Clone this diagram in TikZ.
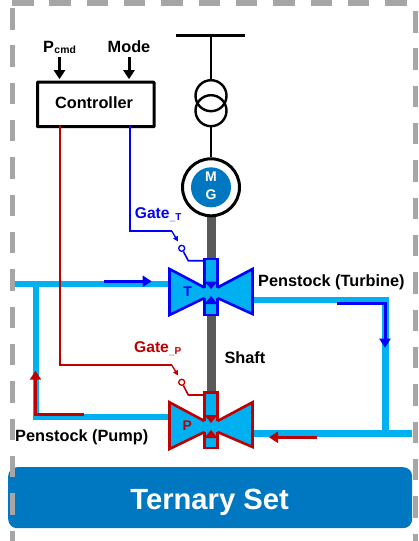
\documentclass[tikz,border=0pt]{standalone}
\usepackage{fontspec}
\setmainfont{Liberation Sans}
\usetikzlibrary{arrows.meta}
\definecolor{pipe}{HTML}{00B0F0}
\definecolor{tblue}{HTML}{0000FF}
\definecolor{pred}{HTML}{C00000}
\definecolor{setblue}{HTML}{0078C1}
\definecolor{frame}{HTML}{A6A6A6}
\definecolor{shaftc}{HTML}{595959}
\newcommand{\fs}[1]{\fontsize{#1}{#1}\selectfont\bfseries}
\tikzset{
  x=1pt,y=-1pt,
  txt/.style={inner sep=0pt,anchor=base west,font=\fs{16.3}},
  framedash/.style={draw=frame,line width=5.3pt,dash pattern=on 21.5pt off 15.83pt},
  pipeline/.style={draw=pipe,line width=6.8pt,line join=miter},
  flow/.style={line width=3pt,-{Triangle[length=9pt,width=11pt]}},
  signal/.style={line width=1.6pt},
  tipline/.style={line width=1.3pt,-{Triangle[length=5pt,width=5pt]}},
  blk/.style={draw=black,line width=3pt},
  valvebody/.style={fill=pipe,draw=none},
  valveedge/.style={line width=2.6pt,line join=miter},
  pilot/.style={circle,draw,fill=white,line width=1.3pt,minimum size=6pt,inner sep=0pt},
}
\begin{document}
\begin{tikzpicture}
\useasboundingbox (0,0) rectangle (419,541);
% bottom band
\node[fill=setblue,rounded corners=9pt,minimum width=404pt,minimum height=61pt,inner sep=0pt,anchor=north west] (band) at (8,467) {};
\node[inner sep=0pt,anchor=base,text=white,font=\fs{29.2}] (bandtxt) at (209.6,509.3) {Ternary Set};
% dashed frame
\draw[framedash] (12,3) -- (419,3);
\draw[framedash] (12.5,8) -- (12.5,541);
\draw[framedash] (415.7,11) -- (415.7,541);
% shaft
\draw[shaftc,line width=9pt] (211,210) -- (211,395);
% pipes
\coordinate (pa) at (15,284);
\coordinate (pb) at (36,284);
\coordinate (pc) at (36,417);
\coordinate (pd) at (175,417);
\coordinate (pe) at (175,284);
\coordinate (pf) at (250,300);
\coordinate (pg) at (385.5,300);
\coordinate (ph) at (385.5,434);
\coordinate (pi) at (250,433.7);
\coordinate (pj) at (412.3,433.7);
\draw[pipeline] (pa) -- (pe);
\draw[pipeline] (pb) -- (pc) -- (pd);
\draw[pipeline] (pf) -- (pg) -- (ph);
\draw[pipeline] (pi) -- (pj);
% transformer and bus
\coordinate (busl) at (176,35.7);
\coordinate (busr) at (245,35.7);
\coordinate (busm) at (211,35.7);
\draw[blk] (busl) -- (busr);
\node[circle,draw=black,line width=2.4pt,minimum size=31pt,inner sep=0pt] (tu) at (211,95.7) {};
\node[circle,draw=black,line width=2.4pt,minimum size=31pt,inner sep=0pt] (tl) at (211,110.7) {};
\node[circle,draw=black,fill=white,line width=3pt,minimum size=57pt,inner sep=0pt] (mg) at (211,187.3) {};
\node[circle,fill=setblue,minimum size=40pt,inner sep=0pt] (mgin) at (211,187.3) {};
\node[inner sep=0pt,text=white,font=\fs{14}] (mtxt) at (211,177) {M};
\node[inner sep=0pt,text=white,font=\fs{14}] (gtxt) at (211,194.5) {G};
\draw[line width=2.4pt] (busm) -- (tu.north);
\draw[line width=2.4pt] (tl.south) -- (mg.north);
% controller
\node[draw=black,line width=3pt,minimum width=116.5pt,minimum height=44.5pt,inner sep=0pt,rounded corners=0.5pt,anchor=north west] (ctrl) at (36,80.7) {};
\node[inner sep=0pt,font=\fs{16.3}] (ctxt) at (94,102.5) {Controller};
\node[txt] (pcmd) at (43,52.7) {P\hspace{0.4pt}\raisebox{-1pt}{\fs{10.4}cmd}};
\node[txt,anchor=base] (mode) at (129,52.7) {Mode};
\coordinate (pin) at (59.5,57);
\coordinate (min) at (129,57);
\coordinate (pinb) at (59.5,79.2);
\coordinate (minb) at (129,79.2);
\draw[black,flow] (pin) -- (pinb);
\draw[black,flow] (min) -- (minb);
% turbine valve
\fill[valvebody] (169.5,269) -- (204.5,287.5) -- (217.5,287.5) -- (252.5,269) -- (252.5,314) -- (217.5,298) -- (204.5,298) -- (169.5,315) -- cycle;
\draw[tblue,valveedge] (204.5,287.5) -- (169.5,269) -- (169.5,315) -- (204.5,298);
\draw[tblue,valveedge] (217.5,287.5) -- (252.5,269) -- (252.5,314) -- (217.5,298);
\draw[tblue,line width=2.2pt,fill=pipe] (204.5,287.5) -- (204.5,258.7) -- (217.5,258.7) -- (217.5,287.5);
\draw[tblue,line width=2.2pt,fill=pipe] (204.5,298) -- (204.5,315) -- (217.5,315) -- (217.5,298);
\fill[tblue] (204.5,281.5) -- (217.5,281.5) -- (211,289) -- cycle;
\fill[tblue] (204.5,304) -- (217.5,304) -- (211,296) -- cycle;
\node[inner sep=0pt,text=tblue,font=\fs{14}] (tv) at (187.7,291.7) {T};
% pump valve
\fill[valvebody] (169.5,402.3) -- (204.5,421) -- (217.5,421) -- (252.5,402.3) -- (252.5,447) -- (217.5,432) -- (204.5,432) -- (169.5,449) -- cycle;
\draw[pred,valveedge] (204.5,421) -- (169.5,402.3) -- (169.5,449) -- (204.5,432);
\draw[pred,valveedge] (217.5,421) -- (252.5,402.3) -- (252.5,447) -- (217.5,432);
\draw[pred,line width=2.2pt,fill=pipe] (204.5,421) -- (204.5,392.5) -- (217.5,392.5) -- (217.5,421);
\draw[pred,line width=2.2pt,fill=pipe] (204.5,432) -- (204.5,448) -- (217.5,448) -- (217.5,432);
\fill[pred] (204.5,415) -- (217.5,415) -- (211,423) -- cycle;
\fill[pred] (204.5,438) -- (217.5,438) -- (211,430) -- cycle;
\node[inner sep=0pt,text=pred,font=\fs{14}] (pv) at (187.3,425.7) {P};
% flow arrows
\coordinate (f1) at (104,281.3);
\coordinate (f2) at (151.7,281.3);
\coordinate (f3) at (336.7,303.5);
\coordinate (f4) at (385,303.5);
\coordinate (f5) at (385,347.7);
\coordinate (f6) at (316.7,437.3);
\coordinate (f7) at (269,437.3);
\coordinate (f8) at (84,414.7);
\coordinate (f9) at (35.5,414.7);
\coordinate (f10) at (35.5,370.7);
\draw[tblue,flow] (f1) -- (f2);
\draw[tblue,flow] (f3) -- (f4) -- (f5);
\draw[pred,flow] (f6) -- (f7);
\draw[pred,flow] (f8) -- (f9) -- (f10);
% gate signals
\node[pilot,draw=tblue] (ct) at (181.7,248.3) {};
\node[pilot,draw=pred] (cp) at (181.7,382.3) {};
\coordinate (s0) at (129.9,125);
\coordinate (s1) at (129.9,231);
\coordinate (s2) at (171.7,231);
\coordinate (s3) at (178,241.5);
\coordinate (s4) at (188.3,260.7);
\coordinate (s5) at (203.5,260.7);
\coordinate (r0) at (60,125);
\coordinate (r1) at (60,365);
\coordinate (r2) at (171.7,365);
\coordinate (r3) at (178,375.5);
\coordinate (r4) at (188.3,395);
\coordinate (r5) at (203.5,395);
\draw[draw=tblue,line width=1.6pt] (s0) -- (s1) -- (s2);
\draw[draw=tblue,fill=tblue,tipline] (s2) -- (s3);
\draw[draw=tblue,signal] (ct) -- (s4) -- (s5);
\draw[draw=pred,line width=1.6pt] (r0) -- (r1) -- (r2);
\draw[draw=pred,fill=pred,tipline] (r2) -- (r3);
\draw[draw=pred,signal] (cp) -- (r4) -- (r5);
% labels
\node[txt,text=tblue,font=\fs{15.6}] (gt) at (134.7,218) {Gate\hspace{0.3pt}\raisebox{-2pt}{\fs{10}\_T}};
\node[txt,text=pred,font=\fs{15.6}] (gp) at (134,352.7) {Gate\hspace{0.3pt}\raisebox{-2pt}{\fs{10}\_P}};
\node[txt] (sh) at (224.3,363.3) {Shaft};
\node[txt] (pt) at (258,286) {Penstock (Turbine)};
\node[txt] (pp) at (15,441.7) {Penstock (Pump)};
\end{tikzpicture}
\end{document}
